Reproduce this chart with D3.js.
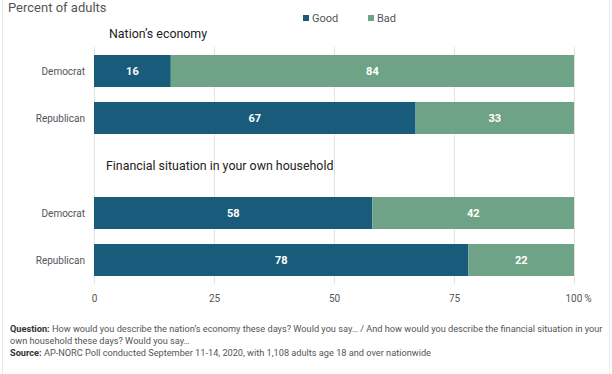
<!DOCTYPE html>
<html><head><meta charset="utf-8">
<script src="https://cdn.jsdelivr.net/npm/d3@7"></script>
<style>body{margin:0;background:#fff;}svg{display:block;font-family:Roboto,"Noto Sans",sans-serif;}</style>
</head><body>
<svg id="c" width="612" height="374"></svg>
<script>
const sections = ["Nation\u2019s economy", "Financial situation in your own household"];
const categories = ["Democrat", "Republican"];
const seriesNames = ["Good", "Bad"];
const goodValues = [[16, 67], [58, 78]];
const badValues = [[84, 33], [42, 22]];
const tickValues = [0, 25, 50, 75, 100];
const colors = ["#185b7b", "#6fa387"];

const svg = d3.select("#c");
const x = d3.scaleLinear().domain([0, 100]).range([94, 574]);

// borders
svg.append("line").attr("x1", 2.5).attr("x2", 2.5).attr("y1", 0).attr("y2", 374).attr("stroke", "#e6e6e6");
svg.append("line").attr("x1", 609.5).attr("x2", 609.5).attr("y1", 0).attr("y2", 374).attr("stroke", "#ececec");

// gridlines
svg.append("g").selectAll("line").data(tickValues).join("line")
  .attr("x1", d => Math.round(x(d)) + 0.5).attr("x2", d => Math.round(x(d)) + 0.5)
  .attr("y1", 47).attr("y2", 284).attr("stroke", "#e3e3e3").attr("stroke-width", 1);

// axis labels
const axis = d3.axisBottom(x).tickValues(tickValues).tickSize(0).tickFormat(d => d === 100 ? "100\u2009%" : d);
const ag = svg.append("g").attr("transform", "translate(0,292)").call(axis);
ag.select(".domain").remove();
ag.selectAll("text").attr("fill", "#555").attr("font-size", 10).attr("font-family", "Roboto,sans-serif");
ag.selectAll(".tick").filter(d => d === 100).select("text").attr("dx", 4);

// title
svg.append("text").attr("x", 8).attr("y", 12).attr("font-size", 13).attr("fill", "#555").text("Percent of adults");

// legend
const lg = svg.append("g");
const legX = [303, 368];
seriesNames.forEach((s, i) => {
  lg.append("rect").attr("x", legX[i]).attr("y", 15).attr("width", 6).attr("height", 6).attr("fill", colors[i]);
  lg.append("text").attr("x", legX[i] + 9).attr("y", 21.5).attr("font-size", 11).attr("fill", "#555").text(s);
});

// sections
const sectionTitleX = [109, 106];
const sectionTitleY = [38, 170];
const barTops = [[55, 102], [197, 244]];
const barH = 32;
sections.forEach((sec, si) => {
  svg.append("text").attr("x", sectionTitleX[si]).attr("y", sectionTitleY[si]).attr("font-size", 12.4).attr("fill", "#222").text(sec);
  categories.forEach((cat, ci) => {
    const y0 = barTops[si][ci];
    const g = goodValues[si][ci], b = badValues[si][ci];
    svg.append("text").attr("x", 85).attr("y", y0 + barH / 2 + 3.5).attr("text-anchor", "end")
      .attr("font-size", 10).attr("fill", "#555").text(cat);
    const segs = [{v: g, s: 0, c: colors[0]}, {v: b, s: g, c: colors[1]}];
    segs.forEach(sg => {
      svg.append("rect").attr("x", x(sg.s)).attr("y", y0).attr("width", x(sg.s + sg.v) - x(sg.s)).attr("height", barH)
        .attr("fill", sg.c);
      svg.append("text").attr("x", (x(sg.s) + x(sg.s + sg.v)) / 2).attr("y", y0 + barH / 2 + 4)
        .attr("text-anchor", "middle").attr("font-size", 11).attr("font-weight", "bold").attr("fill", "#fff").text(sg.v);
    });
  });
});

// footnote
const fn = svg.append("g").attr("font-size", 9.2).attr("fill", "#555");
const l1 = fn.append("text").attr("x", 10).attr("y", 332);
l1.append("tspan").attr("font-weight", "bold").attr("fill", "#333").text("Question: ");
l1.append("tspan").text("How would you describe the nation\u2019s economy these days? Would you say\u2026 / And how would you describe the financial situation in your");
fn.append("text").attr("x", 10).attr("y", 344).text("own household these days? Would you say\u2026");
const l3 = fn.append("text").attr("x", 10).attr("y", 356);
l3.append("tspan").attr("font-weight", "bold").attr("fill", "#333").text("Source: ");
l3.append("tspan").text("AP-NORC Poll conducted September 11-14, 2020, with 1,108 adults age 18 and over nationwide");
</script>
</body></html>
